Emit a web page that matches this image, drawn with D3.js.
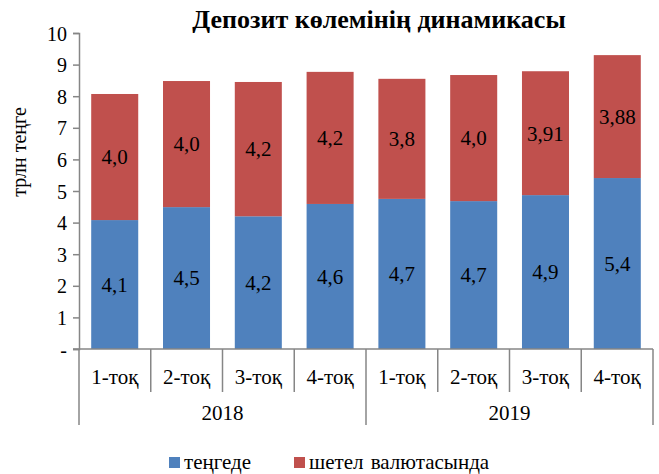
<!DOCTYPE html>
<html>
<head>
<meta charset="utf-8">
<script src="https://cdn.jsdelivr.net/npm/d3@7"></script>
<style>
  body { margin: 0; background: #fff; }
  svg text { font-family: "Liberation Serif", "Times New Roman", serif; fill: #000; }
</style>
</head>
<body>
<div id="chart"></div>
<script>
// quarters and years
var quarters = ["1-тоқ", "2-тоқ", "3-тоқ", "4-тоқ", "1-тоқ", "2-тоқ", "3-тоқ", "4-тоқ"];
var years = ["2018", "2019"];
var seriesNames = ["теңгеде", "шетел валютасында"];

// values (trillion tenge)
var tenge = [4.08, 4.49, 4.20, 4.59, 4.75, 4.68, 4.87, 5.41];
var foreign = [3.99, 3.99, 4.25, 4.18, 3.80, 3.99, 3.92, 3.89];
// printed labels
var tengeLabels = ["4,1", "4,5", "4,2", "4,6", "4,7", "4,7", "4,9", "5,4"];
var foreignLabels = ["4,0", "4,0", "4,2", "4,2", "3,8", "4,0", "3,91", "3,88"];
var yTicks = [0, 1, 2, 3, 4, 5, 6, 7, 8, 9, 10];

var width = 659, height = 474;
var plotLeft = 79, plotRight = 653, plotTop = 33, plotBottom = 349;
var axisColor = "#868686";
var serif = '"Liberation Serif", "Times New Roman", serif';

var svg = d3.select("#chart").append("svg")
    .attr("width", width)
    .attr("height", height);

var x = d3.scaleBand()
    .domain(d3.range(quarters.length))
    .range([plotLeft, plotRight])
    .paddingInner(0.345)
    .paddingOuter(0.17);

var y = d3.scaleLinear()
    .domain([0, 10])
    .range([plotBottom, plotTop]);

// title
svg.append("text")
    .attr("x", 379)
    .attr("y", 28)
    .attr("text-anchor", "middle")
    .style("font-family", serif)
    .style("font-size", "26px")
    .style("font-weight", "bold")
    .text("Депозит көлемінің динамикасы");

// y axis
var yAxis = d3.axisLeft(y)
    .tickValues(yTicks)
    .tickSize(6)
    .tickPadding(6)
    .tickFormat(function(d) { return d === 0 ? "-" : d; });

var gy = svg.append("g")
    .attr("transform", "translate(" + plotLeft + ",0)")
    .attr("font-family", serif)
    .call(yAxis);
gy.select(".domain").attr("stroke", axisColor).attr("stroke-width", 1.5);
gy.selectAll(".tick line").attr("stroke", axisColor).attr("stroke-width", 1.5);
gy.selectAll(".tick text")
    .style("font-family", serif)
    .style("font-size", "20px")
    .attr("dy", "0.35em");

// y label
svg.append("text")
    .attr("transform", "translate(26,152) rotate(-90)")
    .attr("text-anchor", "middle")
    .style("font-family", serif)
    .style("font-size", "20px")
    .text("трлн теңге");

// stacked bars
var stackData = quarters.map(function(q, i) {
    return { i: i, a: tenge[i], b: foreign[i] };
});
var stack = d3.stack().keys(["a", "b"]);
var layers = stack(stackData);
var colors = ["#4F81BD", "#C0504D"];
var labelSets = [tengeLabels, foreignLabels];

layers.forEach(function(layer, k) {
    svg.append("g").selectAll("rect")
        .data(layer)
        .enter().append("rect")
        .attr("x", function(d) { return x(d.data.i); })
        .attr("width", x.bandwidth())
        .attr("y", function(d) { return y(d[1]); })
        .attr("height", function(d) { return y(d[0]) - y(d[1]); })
        .attr("fill", colors[k]);

    svg.append("g").selectAll("text")
        .data(layer)
        .enter().append("text")
        .attr("x", function(d) { return x(d.data.i) + x.bandwidth() / 2; })
        .attr("y", function(d) { return (y(d[0]) + y(d[1])) / 2; })
        .attr("dy", "0.35em")
        .attr("text-anchor", "middle")
        .style("font-family", serif)
        .style("font-size", "21px")
        .text(function(d) { return labelSets[k][d.data.i]; });
});

// x axis: baseline, quarter labels, dividers, years
svg.append("line")
    .attr("x1", plotLeft - 6).attr("x2", plotRight)
    .attr("y1", plotBottom).attr("y2", plotBottom)
    .attr("stroke", axisColor).attr("stroke-width", 1.5);

var edge = function(i) { return plotLeft + i * (plotRight - plotLeft) / quarters.length; };

svg.append("g").selectAll("line")
    .data(d3.range(quarters.length + 1))
    .enter().append("line")
    .attr("x1", function(i) { return edge(i); })
    .attr("x2", function(i) { return edge(i); })
    .attr("y1", plotBottom)
    .attr("y2", function(i) { return i % 4 === 0 ? 425 : 392; })
    .attr("stroke", axisColor)
    .attr("stroke-width", 1.5);

svg.append("g").selectAll("text")
    .data(quarters)
    .enter().append("text")
    .attr("x", function(d, i) { return (edge(i) + edge(i + 1)) / 2; })
    .attr("y", 384)
    .attr("text-anchor", "middle")
    .style("font-family", serif)
    .style("font-size", "21px")
    .text(function(d) { return d; });

svg.append("g").selectAll("text")
    .data(years)
    .enter().append("text")
    .attr("x", function(d, i) { return (edge(i * 4) + edge(i * 4 + 4)) / 2; })
    .attr("y", 420)
    .attr("text-anchor", "middle")
    .style("font-family", serif)
    .style("font-size", "21px")
    .text(function(d) { return d; });

// legend
var legendX = [169, 294];
var legend = svg.append("g").selectAll("g")
    .data(seriesNames)
    .enter().append("g")
    .attr("transform", function(d, i) { return "translate(" + legendX[i] + ",457)"; });

legend.append("rect")
    .attr("width", 11)
    .attr("height", 11)
    .attr("fill", function(d, i) { return colors[i]; });

legend.append("text")
    .attr("x", 15)
    .attr("y", 12)
    .style("font-family", serif)
    .style("font-size", "21px")
    .style("word-spacing", "2px")
    .text(function(d) { return d; });
</script>
</body>
</html>
